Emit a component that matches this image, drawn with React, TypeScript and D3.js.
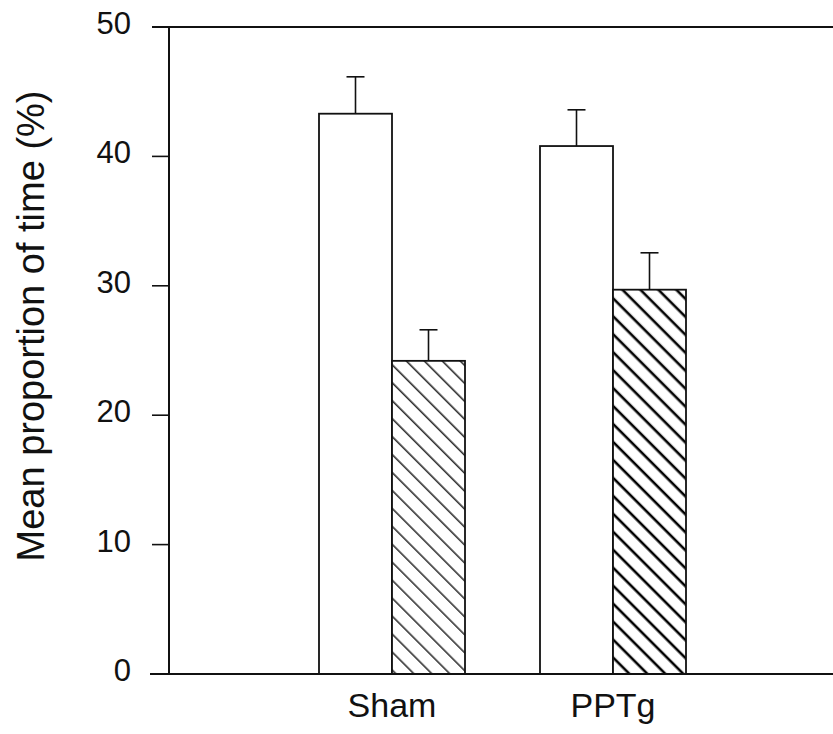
import React from "react";
import * as d3 from "d3";

const categories = ["Sham", "PPTg"];
const seriesKeys = ["open", "hatched"];
const openValues = [43.3, 40.8];
const openErrors = [2.85, 2.8];
const hatchedValues = [24.2, 29.7];
const hatchedErrors = [2.4, 2.85];
const yTicks = [0, 10, 20, 30, 40, 50];
const yTitle = "Mean proportion of time (%)";

const W = 833;
const H = 734;
const axisX = 169;
const rightX = 833;
const y0px = 674;
const y50px = 27;
const font = "'Liberation Sans', Arial, Helvetica, sans-serif";

export default function App() {
  const y = d3.scaleLinear().domain([0, 50]).range([y0px, y50px]);
  const x = d3.scaleBand<string>().domain(categories).range([281.5, 723.5]).padding(0);
  const barW = 73;

  const groups = categories.map((c, i) => {
    const cx = (x(c) as number) + x.bandwidth() / 2;
    const sub = d3.scaleBand<string>().domain(seriesKeys).range([cx - barW, cx + barW]).padding(0);
    return { c, cx, sub, vals: [openValues[i], hatchedValues[i]], errs: [openErrors[i], hatchedErrors[i]] };
  });

  return (
    <svg width={W} height={H} style={{ position: "absolute", left: 0, top: 0, background: "white" }}>
      <defs>
        <pattern id="hatchThin" patternUnits="userSpaceOnUse" width="20" height="12.7" patternTransform="rotate(45)">
          <rect width="20" height="12.7" fill="white" />
          <line x1="0" y1="6" x2="20" y2="6" stroke="#000" strokeWidth="1.3" />
        </pattern>
        <pattern id="hatchThick" patternUnits="userSpaceOnUse" width="20" height="12.7" patternTransform="rotate(45)">
          <rect width="20" height="12.7" fill="white" />
          <line x1="0" y1="6" x2="20" y2="6" stroke="#000" strokeWidth="2.6" />
        </pattern>
      </defs>
      <rect width={W} height={H} fill="white" />

      {groups.map((g, gi) =>
        seriesKeys.map((k, si) => {
          const bx = g.sub(k) as number;
          const bw = g.sub.bandwidth();
          const v = g.vals[si];
          const e = g.errs[si];
          const fill = si === 0 ? "white" : gi === 0 ? "url(#hatchThin)" : "url(#hatchThick)";
          const mx = bx + bw / 2;
          return (
            <g key={g.c + k}>
              <line x1={mx} x2={mx} y1={y(v)} y2={y(v + e)} stroke="#111" strokeWidth={1.6} />
              <line x1={mx - 9} x2={mx + 9} y1={y(v + e)} y2={y(v + e)} stroke="#111" strokeWidth={1.6} />
              <rect x={bx} y={y(v)} width={bw} height={y(0) - y(v)} fill={fill} stroke="#111" strokeWidth={1.8} />
            </g>
          );
        })
      )}

      <line x1={axisX} x2={axisX} y1={y(50)} y2={y(0)} stroke="#111" strokeWidth={2} />
      <line x1={152} x2={rightX} y1={y(50)} y2={y(50)} stroke="#111" strokeWidth={2} />
      <line x1={150} x2={rightX} y1={y(0)} y2={y(0)} stroke="#111" strokeWidth={2} />

      {yTicks.map((t) => (
        <g key={t}>
          <line x1={152} x2={axisX} y1={y(t)} y2={y(t)} stroke="#111" strokeWidth={1.6} />
          <text x={131} y={y(t) + 7} textAnchor="end" fontFamily={font} fontSize={31} fill="#111">
            {t}
          </text>
        </g>
      ))}

      {groups.map((g) => (
        <text key={g.c} x={g.cx} y={717} textAnchor="middle" fontFamily={font} fontSize={34} fill="#111">
          {g.c}
        </text>
      ))}

      <text transform={`translate(44, 326) rotate(-90)`} textAnchor="middle" fontFamily={font} fontSize={38} fill="#111">
        {yTitle}
      </text>
    </svg>
  );
}
